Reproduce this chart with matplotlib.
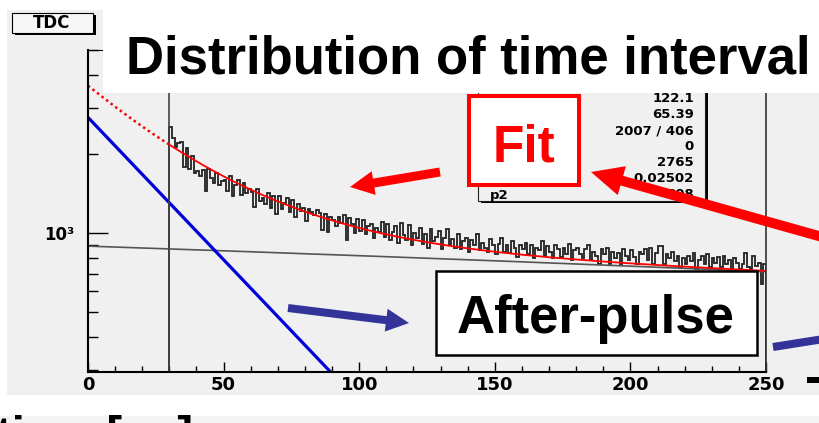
import numpy as np
import matplotlib.pyplot as plt
from matplotlib import ticker
from matplotlib.patches import Rectangle, FancyArrow
from matplotlib.lines import Line2D
from matplotlib.transforms import Affine2D

# TDC histogram (1 ns bins starting at 30 ns)
bin_start = 30
bin_width = 1
counts = [
    2540, 2300, 2130, 2210, 2220, 1790, 2110, 1760, 1970, 1690,
    1730, 1650, 1740, 1450, 1760, 1620, 1560, 1700, 1530, 1580,
    1600, 1450, 1650, 1390, 1520, 1590, 1400, 1560, 1420, 1480,
    1430, 1260, 1470, 1330, 1360, 1290, 1420, 1250, 1390, 1180,
    1390, 1240, 1300, 1360, 1200, 1340, 1150, 1290, 1210, 1250,
    1110, 1240, 1200, 1170, 1230, 1190, 1030, 1180, 1010, 1150,
    1120, 1060, 1150, 1090, 1170, 940, 1140, 1080, 1000, 1130,
    1020, 1120, 990, 1060, 1080, 960, 1050, 1010, 1100, 970,
    1080, 940, 1010, 1060, 920, 1090, 980, 940, 1070, 900,
    1000, 960, 1050, 910, 990, 880, 1040, 930, 970, 1020,
    870, 960, 1040, 900, 950, 880, 990, 870, 930, 960,
    850, 940, 900, 990, 860, 920, 880, 850, 950, 900,
    830, 910, 960, 850, 900, 840, 930, 880, 810, 900,
    870, 920, 830, 900, 800, 880, 860, 930, 820, 890,
    850, 800, 900, 870, 810, 880, 830, 910, 790, 860,
    880, 830, 800, 870, 900, 790, 850, 820, 760, 870,
    830, 880, 760, 850, 800, 840, 760, 870, 820, 790,
    860, 810, 760, 850, 830, 870, 790, 880, 760, 840,
    890, 890, 760, 830, 800, 850, 780, 820, 740, 800,
    760, 820, 780, 840, 730, 790, 820, 760, 830, 740,
    800, 770, 810, 740, 820, 760, 790, 730, 800, 770,
    730, 760, 840, 740, 730, 820, 750, 770, 640, 760,
]

# fit: p0*exp(-p1*x) + background line
p0 = 2765
p1 = 0.02502
bg_0 = 892
bg_slope = -0.72
fit_start = 30

# stats box rows (labels of the upper rows are hidden under the "Fit" box)
stat_values = ["122.1", "65.39", "2007 / 406", "0", "2765", "0.02502", "808"]
last_label = "p2"

W, H = 819, 423
fig = plt.figure(figsize=(W / 100, H / 100), dpi=100)
# pixel coordinates, origin top-left
px = Affine2D().scale(1 / W, -1 / H).translate(0, 1) + fig.transFigure


def box(x0, y0, x1, y1, **kw):
    fig.add_artist(Rectangle((x0, y0), x1 - x0, y1 - y0, transform=px, **kw))


def arrow(x0, y0, x1, y1, w, hw, hl, color):
    fig.add_artist(FancyArrow(x0, y0, x1 - x0, y1 - y0, width=w, head_width=hw,
                              head_length=hl, length_includes_head=True,
                              transform=px, color=color, lw=0, zorder=6))


# ROOT pad background
box(7, 10, 819, 395, fc="#f0f0f0", ec="none", zorder=-2)
box(0, 416, 819, 423, fc="#f3f3f3", ec="none", zorder=-2)

ax = fig.add_axes([88 / W, 1 - 372 / H, 678 / W, 322 / H])
ax.set_facecolor("none")
ax.set_zorder(1)

edges = bin_start + bin_width * np.arange(len(counts) + 1)
x_all = np.linspace(0, 250, 600)
x_ext = x_all[x_all <= fit_start]
x_fit = x_all[x_all >= fit_start]
sig = lambda x: p0 * np.exp(-p1 * x)
bkg = lambda x: bg_0 + bg_slope * x

ax.plot(x_all, bkg(x_all), color="#555555", lw=1.2)
ax.plot(x_all, sig(x_all), color="#0000dd", lw=2.3)
ax.axvline(fit_start, color="#444444", lw=1.2)
ax.stairs(counts, edges, color="#222222", lw=1.3)
ax.plot(x_ext, sig(x_ext) + bkg(x_ext), color="red", lw=1.8, ls=(0, (1, 1.3)))
ax.plot(x_fit, sig(x_fit) + bkg(x_fit), color="red", lw=1.3)

ax.set_xlim(0, 250)
ax.set_yscale("log")
ax.set_ylim(295, 5000)
ax.set_xticks(np.arange(0, 251, 50))
ax.xaxis.set_minor_locator(ticker.MultipleLocator(10))
ax.set_yticks([1000], ["10\u00b3"])
ax.yaxis.set_minor_locator(ticker.LogLocator(subs=np.arange(2, 10)))
ax.yaxis.set_minor_formatter(ticker.NullFormatter())
ax.tick_params(axis="x", which="major", direction="in", length=7.2, width=1,
               labelsize=13, pad=3)
ax.tick_params(axis="x", which="minor", direction="in", length=4.3, width=1)
ax.tick_params(axis="y", which="major", direction="in", length=14.4, width=1,
               labelsize=12, pad=10)
ax.tick_params(axis="y", which="minor", direction="in", length=7.2, width=1)
for lab in ax.get_xticklabels() + ax.get_yticklabels():
    lab.set_fontweight("bold")
    lab.set_family("DejaVu Sans")
for s in ["left", "bottom"]:
    ax.spines[s].set_linewidth(1.5)
ax.spines["right"].set_linewidth(1.2)
ax.spines["right"].set_color("#333333")

# histogram title box
box(14.5, 15.5, 95.5, 35.5, fc="black", ec="none", zorder=3)
box(12, 13, 93, 33, fc="#f7f7f7", ec="black", lw=0.8, zorder=3.1)
fig.text(52, 23.5, "TDC", transform=px, ha="center", va="center", fontsize=12,
         fontweight="bold", family="DejaVu Sans", zorder=3.2)

# stats box
box(480.5, 85, 707.5, 203.5, fc="black", ec="none", zorder=3)
box(478, 83, 705, 201, fc="#f0f0f0", ec="#222222", lw=0.8, zorder=3.1)
for i, val in enumerate(stat_values):
    fig.text(694, 99 + 16 * i, val, transform=px, ha="right", va="center",
             fontsize=9.5, fontweight="bold", family="DejaVu Sans", zorder=3.2)
fig.text(490, 99 + 16 * (len(stat_values) - 1), last_label, transform=px,
         ha="left", va="center", fontsize=9.5, fontweight="bold",
         family="DejaVu Sans", zorder=3.2)

# slide overlays
box(103, 0, 819, 93, fc="white", ec="none", zorder=5)
fig.text(126, 74, "Distribution of time interval", transform=px, ha="left",
         va="baseline", fontsize=38, fontweight="bold", family="Liberation Sans",
         zorder=5.1)

box(469, 96, 579, 185, fc="white", ec="red", lw=2.9, zorder=4)
fig.text(524, 161, "Fit", transform=px, ha="center", va="baseline", fontsize=37,
         fontweight="bold", color="red", family="Liberation Sans", zorder=4.1)

box(436, 271, 757, 355, fc="white", ec="black", lw=1.8, zorder=4)
fig.text(596, 333, "After-pulse", transform=px, ha="center", va="baseline",
         fontsize=38, fontweight="bold", family="Liberation Sans", zorder=4.1)

arrow(440, 172, 350, 187, 9, 24, 24, "red")
arrow(840, 242, 591, 172, 10, 30, 32, "red")
arrow(288, 308, 409, 323, 8, 23, 23, "#333399")
fig.add_artist(Line2D([773, 830], [347, 338], transform=px, color="#333399",
                      lw=5.8, solid_capstyle="butt", zorder=6))
fig.add_artist(Line2D([807, 819], [380, 380], transform=px, color="black",
                      lw=4.3, solid_capstyle="butt", zorder=6))

# axis title of the slide below, mostly cut off at the bottom edge
fig.text(-4, 449, "time [ns]", transform=px, ha="left", va="baseline",
         fontsize=34, fontweight="bold", family="Liberation Sans", zorder=1)

fig.savefig("out.png", dpi=100)
